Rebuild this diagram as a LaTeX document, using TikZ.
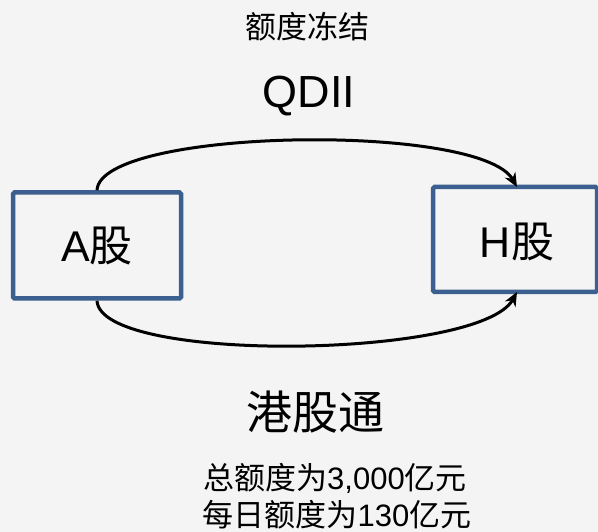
\documentclass[tikz,border=0pt]{standalone}
\usepackage{fontspec}
\setmainfont{Liberation Sans}
\newfontfamily\cjk{Noto Sans CJK SC}
\usetikzlibrary{arrows.meta}
\definecolor{bg}{HTML}{F4F4F4}
\definecolor{boxblue}{HTML}{3B5F8E}
\begin{document}
\begin{tikzpicture}[x=1pt,y=-1pt,
  market/.style={draw=boxblue,line width=4.5pt,rounded corners=1.5pt,inner sep=0pt},
  flow/.style={line width=3pt,-{Stealth[length=14pt,width=12pt,inset=4.5pt]}},
  lbl/.style={inner sep=0pt,align=center}]
\fill[bg] (0,0) rectangle (598,532);
\useasboundingbox (0,0) rectangle (598,532);
\node[market,minimum width=168pt,minimum height=106pt] (A) at (97,245.5) {};
\node[lbl,font=\fontsize{43}{50}\selectfont] (Alab) at (97,246) {A{\cjk 股}};
\node[market,minimum width=164pt,minimum height=105pt] (H) at (515,239.5) {};
\node[lbl,font=\fontsize{43}{50}\selectfont] (Hlab) at (517,242) {H{\cjk 股}};
\coordinate (Htop) at (517,187);
\coordinate (Hbot) at (517,292);
\draw[flow] (A.north) .. controls (100,128) and (480,122) .. (Htop);
\draw[flow] (A.south) .. controls (100,364) and (480,359) .. (Hbot);
\node[lbl,font=\fontsize{31}{36}\selectfont\cjk] (freeze) at (307,27) {额度冻结};
\node[lbl,font=\fontsize{45}{52}\selectfont] (qdii) at (309,96) {QDII};
\node[lbl,font=\fontsize{46}{54}\selectfont\cjk] (hkc) at (315,412) {港股通};
\node[lbl,font=\fontsize{31}{39}\selectfont] (quota1) at (335,478) {{\cjk 总额度为}3,000{\cjk 亿元}};
\node[lbl,font=\fontsize{31}{39}\selectfont] (quota2) at (337,515) {{\cjk 每日额度为}130{\cjk 亿元}};
\end{tikzpicture}
\end{document}
